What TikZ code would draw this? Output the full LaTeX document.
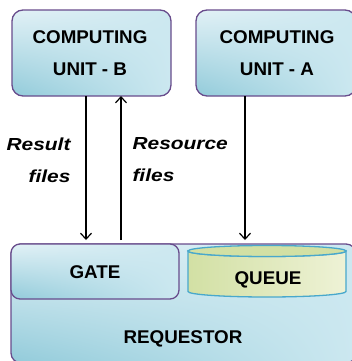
\documentclass[tikz,border=0pt]{standalone}
\usepackage{fontspec}
\setmainfont{Liberation Sans}
\newfontfamily\boxfont{Liberation Sans}[FakeStretch=1.02]
\newfontfamily\labfont{Liberation Sans}[FakeStretch=1.2]
\usetikzlibrary{arrows.meta,shadings}
\definecolor{boxline}{RGB}{104,76,140}
\definecolor{shlight}{RGB}{226,241,246}
\definecolor{shmid}{RGB}{204,232,240}
\definecolor{shdark}{RGB}{146,203,218}
\definecolor{cylline}{RGB}{72,168,204}
\definecolor{cyllight}{RGB}{238,242,214}
\definecolor{cyldark}{RGB}{210,224,164}
\tikzset{
  unitbox/.style={draw=boxline, line width=1.3bp, rounded corners=11bp,
    shade, upper left=shlight, upper right=shmid, lower left=shdark, lower right=shmid},
  boxtext/.style={font=\boxfont\bfseries\fontsize{18.5}{32}\selectfont, align=center, text=black},
  labtext/.style={font=\labfont\bfseries\itshape\fontsize{17.5}{32}\selectfont, text=black},
  flow/.style={line width=1.2bp, -{Straight Barb[length=6bp,width=11bp]}}
}
\begin{document}
\begin{tikzpicture}[x=1bp, y=-1bp]
\useasboundingbox (0,0) rectangle (352,361);

% computing units
\path[unitbox] (12,10) rectangle (171,96);
\node[boxtext] (unitB) at (90,53) {COMPUTING\\UNIT - B};
\path[unitbox] (196,10) rectangle (356,96);
\node[boxtext] (unitA) at (277,53) {COMPUTING\\UNIT - A};
\coordinate (bB) at (91,96);
\coordinate (bA) at (245,96);

% requestor with its gate and queue
\path[unitbox, rounded corners=10bp] (11,244) rectangle (356,363);
\node[boxtext] (req) at (183,339) {REQUESTOR};
\path[unitbox, rounded corners=9bp] (11,244) rectangle (179,299);
\node[boxtext] (gate) at (95,272) {GATE};
\coordinate (top) at (0,240);

% queue cylinder
\path[draw=cylline, line width=1.3bp, left color=cyldark, right color=cyllight]
  (188,251) -- (188,291.5) arc[start angle=180, end angle=360, x radius=79, y radius=-5.5]
  -- (346,251) arc[start angle=0, end angle=180, x radius=79, y radius=5.5] -- cycle;
\path[draw=cylline, line width=1.3bp, fill=cyldark]
  (267,251) ellipse[x radius=79, y radius=5.5];
\node[boxtext] (queue) at (268,279.5) {QUEUE};

% file transfers
\draw[flow] (bB -| 86,0) -- (top -| 86,0);
\draw[flow] (top -| 121,0) -- (bB -| 121,0);
\draw[flow] (bA) -- (top -| bA);

\node[labtext, anchor=east, align=right] (resl) at (74,160) {Result\\files};
\node[labtext, anchor=west, align=left] (resc) at (129,160) {Resource\\files};
\end{tikzpicture}
\end{document}
